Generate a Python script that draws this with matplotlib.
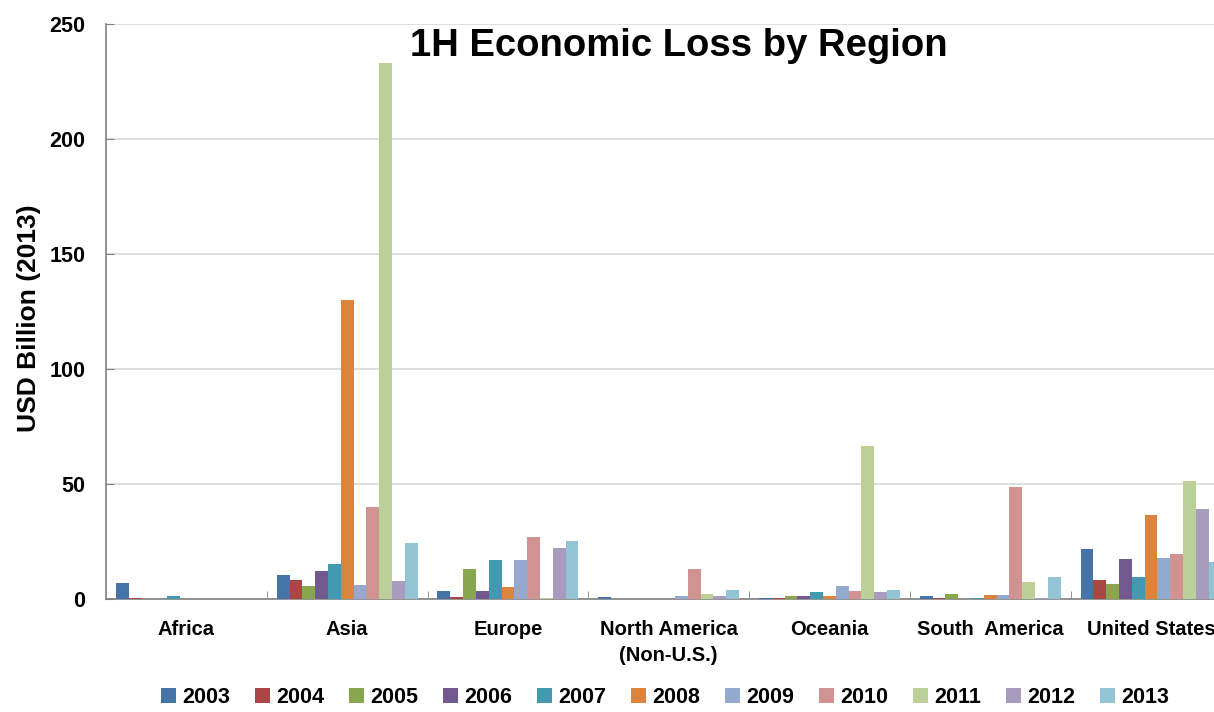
import matplotlib.pyplot as plt
import numpy as np

plt.rcParams['font.family'] = ['Liberation Sans', 'DejaVu Sans']
plt.rcParams['font.weight'] = 'bold'

regions = ['Africa', 'Asia', 'Europe', 'North America\n(Non-U.S.)', 'Oceania',
           'South  America', 'United States']
years = ['2003', '2004', '2005', '2006', '2007', '2008', '2009', '2010', '2011', '2012', '2013']
colors = ['#4674A8', '#AA4644', '#89A54E', '#71598F', '#4299B0', '#DB843D',
          '#93A9D0', '#D19392', '#BAD097', '#A99BBE', '#93C4D6']

# rows = regions, columns = years
africa = [6.8, 0.6, 0, 0, 1.2, 0, 0, 0, 0, 0, 0]
asia = [10.6, 8.4, 5.6, 12.3, 15.1, 130, 6.2, 40.1, 233, 7.8, 24.5]
europe = [3.5, 0.7, 12.9, 3.5, 16.8, 5.1, 16.8, 26.8, 0.6, 22.3, 25.1]
north_america = [1.0, 0, 0, 0, 0, 0, 1.2, 12.9, 2.2, 1.2, 3.9]
oceania = [0.6, 0.6, 1.2, 1.2, 2.9, 1.2, 5.7, 3.5, 66.5, 2.9, 3.9]
south_america = [1.2, 0.6, 2.2, 0, 0.6, 1.7, 1.7, 48.7, 7.2, 0.6, 9.4]
united_states = [21.6, 8.4, 6.7, 17.3, 9.4, 36.4, 17.8, 19.6, 51.2, 39, 16.2]

data = np.array([africa, asia, europe, north_america, oceania, south_america, united_states])

fig = plt.figure(figsize=(12.14, 7.12), dpi=100)
ax = fig.add_axes([0.0873, 0.1587, 0.927, 0.8076])

n = len(years)
group = 0.876
w = group / n
x = np.arange(len(regions))
for i, yr in enumerate(years):
    ax.bar(x - group / 2 + w * (i + 0.5), data[:, i], width=w, color=colors[i],
           edgecolor='none', label=yr, zorder=3)

ax.set_xlim(-0.5, len(regions) - 0.5)
ax.set_ylim(0, 250)
ax.set_yticks(range(0, 251, 50))
ax.grid(axis='y', color='#D9D9D9', linewidth=1.2, zorder=0)
ax.set_xticks(x)
ax.set_xticklabels(regions, fontsize=14.5, fontweight='bold', linespacing=1.45)
ax.tick_params(axis='x', length=0, pad=15)
ax.set_xticks(np.arange(len(regions) - 1) + 0.5, minor=True)
ax.tick_params(axis='x', which='minor', length=6, direction='in', color='#808080')
ax.tick_params(axis='y', labelsize=15.5, length=6, direction='in', color='#808080', pad=15)
for lab in ax.get_yticklabels():
    lab.set_fontweight('bold')
for s in ['top', 'right']:
    ax.spines[s].set_visible(False)
for s in ['left', 'bottom']:
    ax.spines[s].set_color('#808080')
    ax.spines[s].set_linewidth(1.2)

ax.set_ylabel('USD Billion (2013)', fontsize=19, fontweight='bold')
ax.yaxis.set_label_coords(-0.058, 0.488)
ax.text(0.509, 0.962, '1H Economic Loss by Region', transform=ax.transAxes,
        ha='center', va='center', fontsize=27.5, fontweight='bold')

fig.legend(loc='lower center', bbox_to_anchor=(0.548, -0.022), ncol=n, frameon=False,
           handlelength=0.7, handleheight=0.7, handletextpad=0.3,
           columnspacing=1.14, prop={'weight': 'bold', 'size': 15.5})

fig.savefig('out.png', dpi=100)
